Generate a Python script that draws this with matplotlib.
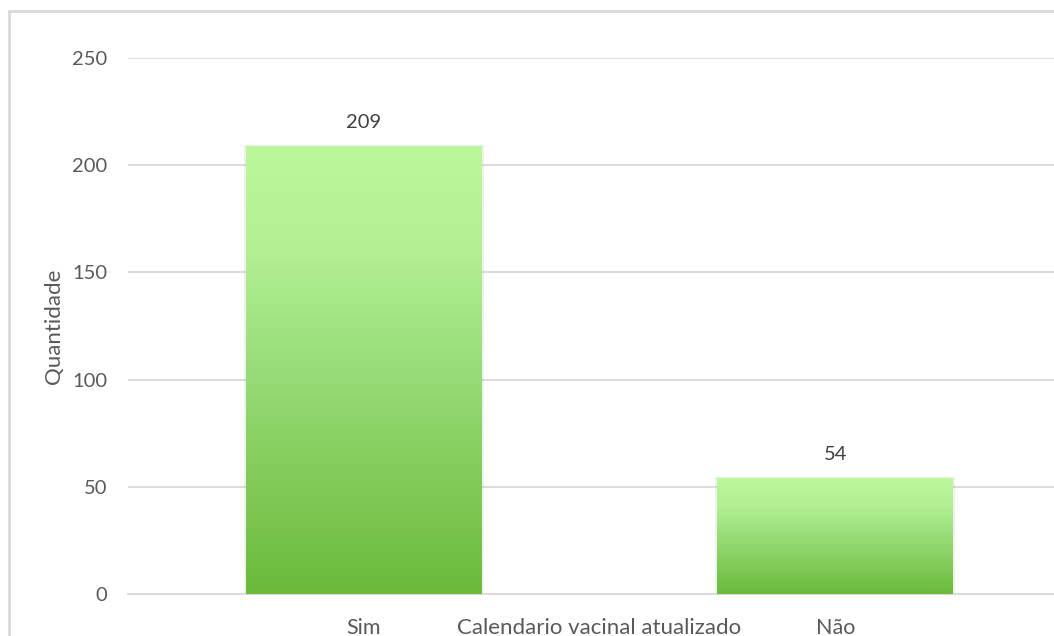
import numpy as np
import matplotlib.pyplot as plt
from matplotlib.colors import LinearSegmentedColormap
from matplotlib.patches import Rectangle

categorias = ['Sim', 'Não']
quantidades = [209, 54]
titulo_x = 'Calendario vacinal atualizado'
titulo_y = 'Quantidade'
ticks_y = [0, 50, 100, 150, 200, 250]

cinza = '#595959'
plt.rcParams['font.family'] = ['Lato', 'DejaVu Sans']

# degradê verde (topo claro -> base escura)
grad = LinearSegmentedColormap.from_list(
    'verde', [(0.0, '#6bba3a'), (0.5, '#98dc78'), (0.75, '#b0ef92'),
              (1.0, '#b9f99b')])

fig = plt.figure(figsize=(10.54, 6.36), dpi=100)
ax = fig.add_axes([128 / 1054, (636 - 594) / 636, 943 / 1054, 536 / 636])

# moldura do gráfico
fig.add_artist(Rectangle((9 / 1054, -0.05), 1.2, (636 - 11) / 636 + 0.05,
                         transform=fig.transFigure, fill=False,
                         edgecolor='#d9d9d9', linewidth=2))

x = np.arange(len(categorias))
larg = 0.5
barras = ax.bar(x, quantidades, width=larg, color='none', zorder=2)
g = np.linspace(0, 1, 256).reshape(-1, 1)
for b, v in zip(barras, quantidades):
    x0 = b.get_x()
    # sombra suave
    ax.add_patch(Rectangle((x0 - 0.004, 0), larg + 0.008, v + 0.6,
                           color='#000000', alpha=0.06, zorder=2, lw=0))
    im = ax.imshow(g, cmap=grad, aspect='auto', origin='lower',
                   extent=[x0, x0 + larg, 0, v], zorder=3)
    im.set_clip_path(b)
    ax.text(b.get_x() + larg / 2, v + 7, str(v), ha='center', va='bottom',
            fontsize=14.5, color='#404040')

ax.set_xlim(-0.5, 1.5)
ax.set_ylim(0, 250)
ax.set_yticks(ticks_y)
ax.set_xticks(x)
ax.set_xticklabels(categorias)
ax.tick_params(axis='both', length=0, labelsize=14.5, colors=cinza)
ax.tick_params(axis='x', pad=17, labelsize=15.5)
ax.tick_params(axis='y', pad=15)
ax.yaxis.grid(True, color='#d9d9d9', linewidth=1.3, zorder=0)
ax.set_axisbelow(True)
for s in ['top', 'right', 'left']:
    ax.spines[s].set_visible(False)
ax.spines['bottom'].set_color('#d9d9d9')
ax.spines['bottom'].set_linewidth(1.3)

ax.text(0.5, -0.0634, titulo_x, transform=ax.transAxes, ha='center',
        va='center', fontsize=16, color=cinza)
ax.set_ylabel(titulo_y, fontsize=16, color=cinza, labelpad=6)

fig.savefig('out.png', dpi=100)
